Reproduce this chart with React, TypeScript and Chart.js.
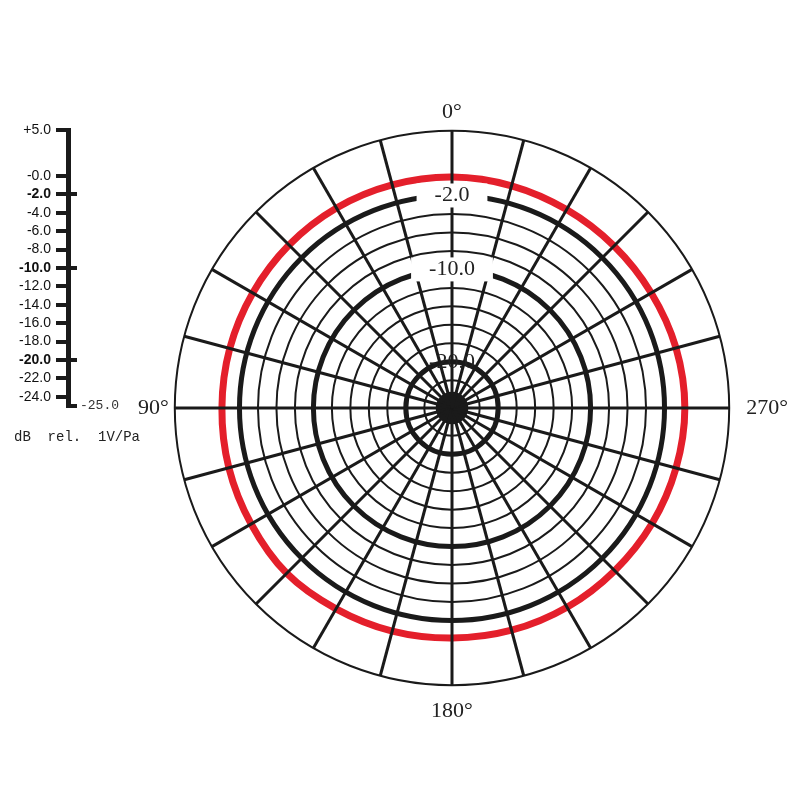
import React, { useEffect, useRef } from "react";
import { Chart, registerables } from "chart.js";

Chart.register(...registerables);

// ---- polar pattern data ----
const angleDeg = [0, 345, 330, 315, 300, 285, 270, 255, 240, 225, 210, 195, 180, 165, 150, 135, 120, 105, 90, 75, 60, 45, 30, 15];
const angleLabels = angleDeg.map((a) => `${a}°`);
const shownAngleLabels = ["0°", "90°", "180°", "270°"];
const responseDb = [0.0, -0.1, -0.2, -0.2, -0.1, 0.1, 0.2, 0.1, 0.0, -0.1, -0.1, -0.1, -0.1, 0.0, 0.1, 0.3, 0.1, 0.0, -0.1, -0.1, -0.1, -0.05, 0.0, 0.0];

const ringValues = [-24, -22, -20, -18, -16, -14, -12, -10, -8, -6, -4, -2, 5];
const ringLabelValues = [-2, -10, -20];
const ringLabelTexts = ["-2.0", "-10.0", "-20.0"];
const thickRings = [-2, -10, -20];
const backdropRings = [-2, -10];

// ---- level scale data ----
const scaleTicks = [5, 0, -2, -4, -6, -8, -10, -12, -14, -16, -18, -20, -22, -24, -25];
const scaleTickLabels = ["+5.0", "-0.0", "-2.0", "-4.0", "-6.0", "-8.0", "-10.0", "-12.0", "-14.0", "-16.0", "-18.0", "-20.0", "-22.0", "-24.0", ""];
const majorScaleTicks = [-2, -10, -20];
const footTick = -25;
const footLabel = "-25.0";
const unitText = "dB  rel.  1V/Pa";

const DB_MIN = -25;
const DB_MAX = 5;
const INK = "#1a1a1a";
const RED = "#e41f2b";

export default function App() {
  const polarRef = useRef<HTMLCanvasElement | null>(null);
  const scaleRef = useRef<HTMLCanvasElement | null>(null);

  useEffect(() => {
    const polar = new Chart(polarRef.current as HTMLCanvasElement, {
      type: "radar",
      data: {
        labels: angleLabels,
        datasets: [
          {
            data: responseDb,
            borderColor: RED,
            borderWidth: 7,
            pointRadius: 0,
            fill: false,
            tension: 0.34,
          },
        ],
      },
      options: {
        responsive: false,
        animation: false,
        layout: { padding: 0 },
        plugins: { legend: { display: false }, tooltip: { enabled: false } },
        scales: {
          r: {
            min: DB_MIN,
            max: DB_MAX,
            startAngle: 0,
            afterBuildTicks: (s: any) => {
              s.ticks = ringValues.map((v) => ({ value: v }));
            },
            grid: {
              circular: true,
              color: INK,
              z: 1,
              lineWidth: (ctx: any) => {
                const v = ctx.tick ? ctx.tick.value : null;
                if (v === -24) return 14;
                if (thickRings.includes(v)) return 5;
                return 2;
              },
            },
            angleLines: { color: INK, lineWidth: 3 },
            ticks: {
              z: 2,
              callback: (v: any) => {
                const i = ringLabelValues.indexOf(Number(v));
                return i >= 0 ? ringLabelTexts[i] : "";
              },
              font: { family: "Liberation Serif", size: 22 },
              color: "#222",
              showLabelBackdrop: (ctx: any) => (ctx.tick ? backdropRings.includes(ctx.tick.value) : true),
              backdropColor: "#ffffff",
              backdropPadding: { x: 18, y: 1 },
            },
            pointLabels: {
              display: true,
              callback: (label: string) => (shownAngleLabels.includes(label) ? label : ""),
              font: { family: "Liberation Serif", size: 22 },
              color: "#222",
              padding: (ctx: any) =>
                ctx.index === 0 ? -7 : ctx.index === 6 ? 5 : ctx.index === 12 ? 1 : ctx.index === 18 ? -6 : 10,
            },
          },
        },
      },
    } as any);

    const scale = new Chart(scaleRef.current as HTMLCanvasElement, {
      type: "line",
      data: { labels: [""], datasets: [] },
      options: {
        responsive: false,
        animation: false,
        layout: { padding: { left: 14, top: 130, right: 0, bottom: 0 } },
        plugins: {
          legend: { display: false },
          tooltip: { enabled: false },
          title: {
            display: true,
            text: unitText,
            position: "bottom",
            align: "start",
            color: "#222",
            font: { family: "Liberation Mono", size: 15, weight: "normal" },
            padding: { top: 22, bottom: 0 },
          },
        },
        scales: {
          x: { display: false },
          y: {
            type: "linear",
            position: "left",
            min: DB_MIN,
            max: DB_MAX,
            afterBuildTicks: (s: any) => {
              s.ticks = scaleTicks.map((v) => ({ value: v }));
            },
            afterFit: (s: any) => {
              s.width = 54;
            },
            border: { display: true, color: INK, width: 5 },
            grid: {
              drawOnChartArea: true,
              lineWidth: 4,
              tickWidth: 4,
              tickLength: 12,
              color: (ctx: any) =>
                ctx.tick && (majorScaleTicks.includes(ctx.tick.value) || ctx.tick.value === footTick) ? INK : "rgba(0,0,0,0)",
              tickColor: (ctx: any) => (ctx.tick && ctx.tick.value === footTick ? "rgba(0,0,0,0)" : INK),
            },
            ticks: {
              autoSkip: false,
              padding: 5,
              color: "#111",
              callback: (v: any) => {
                const i = scaleTicks.indexOf(Number(v));
                return i >= 0 ? scaleTickLabels[i] : "";
              },
              font: (ctx: any) => ({
                family: "Liberation Sans",
                size: 14,
                weight: ctx.tick && majorScaleTicks.includes(ctx.tick.value) ? "bold" : "normal",
              }),
            },
          },
          y2: {
            type: "linear",
            position: "right",
            min: DB_MIN,
            max: DB_MAX,
            afterBuildTicks: (s: any) => {
              s.ticks = [{ value: footTick }];
            },
            afterFit: (s: any) => {
              s.width = 63;
            },
            border: { display: false },
            grid: { display: false, drawTicks: false },
            ticks: {
              autoSkip: false,
              padding: 3,
              color: "#333",
              callback: () => footLabel,
              font: { family: "Liberation Mono", size: 13 },
            },
          },
        },
      },
    } as any);

    return () => {
      polar.destroy();
      scale.destroy();
    };
  }, []);

  return (
    <div
      style={{
        position: "absolute",
        left: 0,
        top: 0,
        width: 800,
        height: 800,
        overflow: "hidden",
        background: "#ffffff",
      }}
    >
      <canvas ref={scaleRef} width={140} height={446} style={{ position: "absolute", left: 0, top: 0 }} />
      <canvas ref={polarRef} width={672} height={672} style={{ position: "absolute", left: 127, top: 73 }} />
    </div>
  );
}
